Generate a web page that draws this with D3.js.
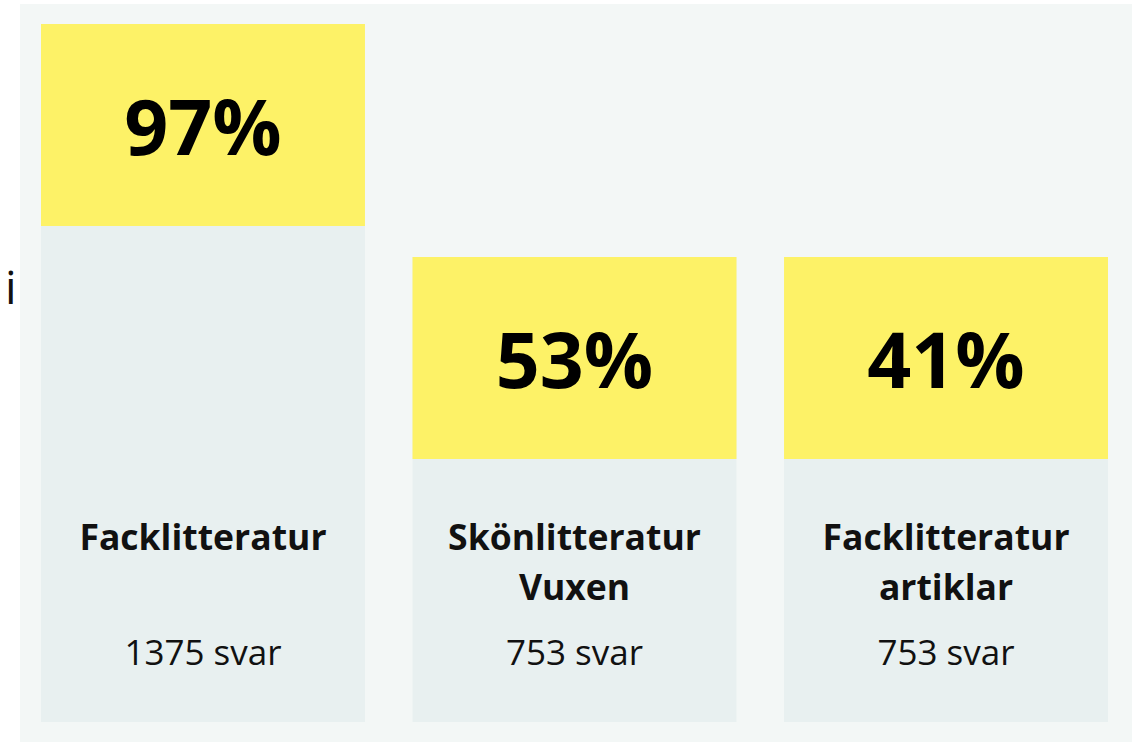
<!DOCTYPE html>
<html>
<head>
<meta charset="utf-8">
<script src="https://cdn.jsdelivr.net/npm/d3@7"></script>
<style>
  body { margin: 0; background: #fff; }
  svg { display: block; font-family: "Open Sans", sans-serif; }
</style>
</head>
<body>
<svg width="1132" height="742"></svg>
<script>
const categories = ["Facklitteratur", "Skönlitteratur Vuxen", "Facklitteratur artiklar"];
const labelLines = [["Facklitteratur"], ["Skönlitteratur", "Vuxen"], ["Facklitteratur", "artiklar"]];
const shares = [97, 53, 41];
const answers = [1375, 753, 753];

const svg = d3.select("svg");
const width = +svg.attr("width");
const height = +svg.attr("height");

// panel behind the cards
svg.append("rect")
  .attr("x", 20).attr("y", 4)
  .attr("width", width - 20).attr("height", height - 4)
  .attr("fill", "#f3f7f6");

// cut-off text on the left edge
svg.append("text")
  .attr("x", 5).attr("y", 304)
  .attr("font-size", 46)
  .attr("font-weight", 500)
  .attr("fill", "#111")
  .text("i");

const x = d3.scaleBand()
  .domain(categories)
  .range([41, 1108])
  .paddingInner(0.128);

const data = categories.map((c, i) => ({
  cat: c, lines: labelLines[i], share: shares[i], n: answers[i], i
}));

const cardBottom = 722;
const boxH = 202;
const topFor = i => i === 0 ? 24 : 257;

const card = svg.selectAll("g.card")
  .data(data)
  .enter()
  .append("g")
  .attr("class", "card")
  .attr("transform", d => `translate(${x(d.cat)},0)`);

card.append("rect")
  .attr("y", d => topFor(d.i))
  .attr("width", x.bandwidth())
  .attr("height", d => cardBottom - topFor(d.i))
  .attr("fill", "#e8f0f0");

card.append("rect")
  .attr("y", d => topFor(d.i))
  .attr("width", x.bandwidth())
  .attr("height", boxH)
  .attr("fill", "#fdf267");

card.append("text")
  .attr("x", x.bandwidth() / 2)
  .attr("y", d => topFor(d.i) + boxH / 2 + 30)
  .attr("text-anchor", "middle")
  .attr("font-size", 77)
  .attr("font-weight", 700)
  .attr("fill", "#000")
  .text(d => d.share + "%");

card.append("text")
  .attr("text-anchor", "middle")
  .attr("font-size", 35.5)
  .attr("font-weight", 700)
  .attr("fill", "#111")
  .selectAll("tspan")
  .data(d => d.lines)
  .enter()
  .append("tspan")
  .attr("x", x.bandwidth() / 2)
  .attr("y", (d, j) => 550 + j * 50)
  .text(d => d);

card.append("text")
  .attr("x", x.bandwidth() / 2)
  .attr("y", 665)
  .attr("text-anchor", "middle")
  .attr("font-size", 35)
  .attr("fill", "#111")
  .text(d => d.n + " svar");
</script>
</body>
</html>
